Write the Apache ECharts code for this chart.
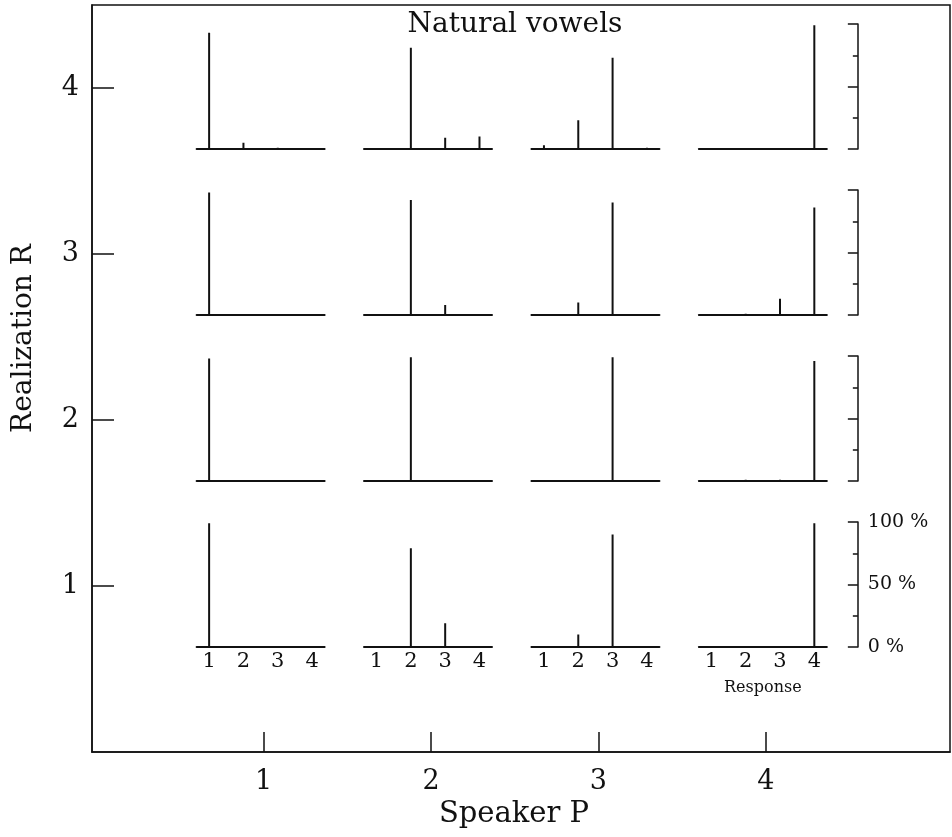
<!DOCTYPE html>
<html>
<head>
<meta charset="utf-8">
<script src="https://cdn.jsdelivr.net/npm/echarts@6/dist/echarts.min.js"></script>
<style>
  html, body { margin: 0; padding: 0; background: #fff; }
  #chart { width: 952px; height: 837px; }
</style>
</head>
<body>
<div id="chart"></div>
<script>
// Speakers (columns) and realizations (rows) of the outer layout
const speakers = [1, 2, 3, 4];
const realizations = [4, 3, 2, 1];
const responses = [1, 2, 3, 4];
const percentTicks = [0, 50, 100];

// Percentage of responses 1..4, one array per speaker P1..P4
const realization4 = [[93, 5, 1, 0], [0, 81, 9, 10], [3, 23, 73, 1], [0, 0, 0, 99]];
const realization3 = [[98, 0, 0, 0], [0, 92, 8, 0], [0, 10, 90, 0], [0, 1, 13, 86]];
const realization2 = [[98, 0, 0, 0], [0, 99, 0, 0], [0, 0, 99, 0], [0, 1, 1, 96]];
const realization1 = [[99, 0, 0, 0], [0, 79, 19, 0], [0, 10, 90, 0], [0, 0, 0, 99]];
const rows = [realization4, realization3, realization2, realization1];

const FONT = 'DejaVu Serif';
const INK = '#111';

// Outer frame geometry
const frame = { left: 92, top: 5, width: 858, height: 747 };
const xRange = [-0.025, 5.1];
const yRange = [0, 4.5];
const xPix = p => frame.left + (p - xRange[0]) / (xRange[1] - xRange[0]) * frame.width;
const yPix = r => frame.top + (yRange[1] - r) / (yRange[1] - yRange[0]) * frame.height;

// Small panel geometry
const cellWidth = 128;
const cellHeight = 125;
const cellShiftX = -3;
const baselineBelowTick = 61;

const grids = [{
  left: frame.left, top: frame.top, width: frame.width, height: frame.height,
  show: true, borderColor: INK, borderWidth: 1.5, backgroundColor: 'transparent'
}];
const xAxes = [{
  gridIndex: 0, type: 'value', min: xRange[0], max: xRange[1],
  axisLine: { show: true, onZero: false, lineStyle: { color: INK, width: 1.5 } },
  axisTick: { show: true, inside: true, length: 20, customValues: speakers, lineStyle: { color: INK, width: 1.5 } },
  axisLabel: { customValues: speakers, color: INK, fontFamily: FONT, fontSize: 27, margin: 16 },
  splitLine: { show: false },
  name: 'Speaker P', nameLocation: 'middle', nameGap: 48,
  nameTextStyle: { color: INK, fontFamily: FONT, fontSize: 29, padding: [0, 14, 0, 0] }
}];
const yAxes = [{
  gridIndex: 0, type: 'value', min: yRange[0], max: yRange[1],
  axisLine: { show: true, onZero: false, lineStyle: { color: INK, width: 1.5 } },
  axisTick: { show: true, inside: true, length: 22, customValues: realizations, lineStyle: { color: INK, width: 1.5 } },
  axisLabel: { customValues: realizations, color: INK, fontFamily: FONT, fontSize: 27, margin: 13 },
  splitLine: { show: false },
  name: 'Realization R', nameLocation: 'middle', nameGap: 54, nameRotate: 90,
  nameTextStyle: { color: INK, fontFamily: FONT, fontSize: 28, padding: [0, 0, 0, 80] }
}];
const series = [];

realizations.forEach((r, i) => {
  speakers.forEach((p, j) => {
    const k = grids.length;
    const isBottom = i === realizations.length - 1;
    const isRight = j === speakers.length - 1;
    const baseline = yPix(r) + baselineBelowTick;
    grids.push({
      left: xPix(p) + cellShiftX - cellWidth / 2,
      top: baseline - cellHeight,
      width: cellWidth,
      height: cellHeight
    });
    xAxes.push({
      gridIndex: k, type: 'value', min: 0.635, max: 4.365,
      axisLine: { show: true, onZero: false, lineStyle: { color: INK, width: 2 } },
      axisTick: { show: false },
      axisLabel: isBottom
        ? { show: true, customValues: responses, color: INK, fontFamily: FONT, fontSize: 21, margin: 4 }
        : { show: false },
      splitLine: { show: false },
      name: isBottom && isRight ? 'Response' : '',
      nameLocation: 'middle', nameGap: 33,
      nameTextStyle: { color: INK, fontFamily: FONT, fontSize: 16 }
    });
    yAxes.push({
      gridIndex: k, type: 'value', min: 0, max: 100, interval: 50,
      show: isRight, position: 'right', offset: 31,
      axisLine: { show: true, onZero: false, lineStyle: { color: INK, width: 1.5 } },
      axisTick: { show: true, inside: true, length: 10, lineStyle: { color: INK, width: 1.5 } },
      minorTick: { show: true, splitNumber: 2, length: 5, lineStyle: { color: INK, width: 1.5 } },
      axisLabel: isBottom
        ? { show: true, customValues: percentTicks, formatter: '{value} %', color: INK, fontFamily: FONT, fontSize: 19, margin: 10 }
        : { show: false },
      splitLine: { show: false }
    });
    series.push({
      type: 'bar', xAxisIndex: k, yAxisIndex: k,
      barWidth: 2, itemStyle: { color: INK }, silent: true,
      data: responses.map((resp, n) => [resp, rows[i][j][n]])
    });
  });
});

const chart = echarts.init(document.getElementById('chart'), null, { renderer: 'canvas' });
chart.setOption({
  animation: false,
  backgroundColor: '#fff',
  title: {
    text: 'Natural vowels', left: 510, top: 6, textAlign: 'center',
    textStyle: { color: INK, fontFamily: FONT, fontSize: 28, fontWeight: 'normal' }
  },
  grid: grids,
  xAxis: xAxes,
  yAxis: yAxes,
  series: series
});
</script>
</body>
</html>
